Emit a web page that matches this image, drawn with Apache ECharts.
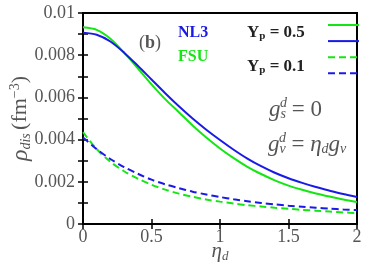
<!DOCTYPE html>
<html><head><meta charset="utf-8">
<script src="https://cdn.jsdelivr.net/npm/echarts@6/dist/echarts.min.js"></script>
<style>html,body{margin:0;padding:0;background:#fff}#c{width:374px;height:262px}</style>
</head><body><div id="c"></div>
<script>
const etas = [0,0.1,0.2,0.3,0.4,0.5,0.6,0.7,0.8,0.9,1.0,1.1,1.2,1.3,1.4,1.5,1.6,1.7,1.8,1.9,2.0];
const nl3_05 = [0.00907,0.00897,0.00865,0.00812,0.00750,0.00685,0.00620,0.00558,0.00500,0.00447,0.00398,0.00352,0.00310,0.00274,0.00243,0.00217,0.00195,0.00175,0.00158,0.00142,0.00128];
const fsu_05 = [0.00932,0.00920,0.00878,0.00812,0.00738,0.00662,0.00592,0.00530,0.00467,0.00410,0.00358,0.00312,0.00271,0.00237,0.00207,0.00182,0.00162,0.00145,0.00130,0.00116,0.00104];
const nl3_01 = [0.00410,0.00355,0.00308,0.00270,0.00238,0.00210,0.00188,0.00170,0.00153,0.00140,0.00128,0.00117,0.00108,0.00100,0.00093,0.00087,0.00082,0.00077,0.00073,0.00069,0.00066];
const fsu_01 = [0.00435,0.00355,0.00295,0.00250,0.00215,0.00186,0.00163,0.00144,0.00129,0.00116,0.00106,0.00097,0.00089,0.00083,0.00077,0.00072,0.00067,0.00063,0.00059,0.00055,0.00052];
const xTickLabels = {0:'0',0.5:'0.5',1:'1',1.5:'1.5',2:'2'};
const yTickLabels = {0:'0',2:'0.002',4:'0.004',6:'0.006',8:'0.008',10:'0.01'};

const GREEN = '#14e614', BLUE = '#1a1ae6', GRAY = '#555';
const SERIF = 'Liberation Serif';
const pairs = arr => etas.map((x,i)=>[x,arr[i]]);
function mk(name, arr, color, dashed){
  return {name, type:'line', data:pairs(arr), smooth:0.3, symbol:'none', showSymbol:false,
    lineStyle:{color, width:2, type: dashed ? [7,4] : 'solid'}, itemStyle:{color}, z: dashed?2:3};
}
const chart = echarts.init(document.getElementById('c'), null, {renderer:'canvas'});
const tickStyle = {show:true, inside:true, length:5, lineStyle:{color:'#000', width:1.5}};
chart.setOption({
  animation:false,
  grid:{left:83, right:17, top:13, bottom:38, containLabel:false, outerBoundsMode:'none', show:true, borderColor:'#000', borderWidth:2},
  xAxis:[{type:'value', min:0, max:2, interval:0.5,
    axisLine:{show:true, lineStyle:{color:'#000', width:2}}, axisTick:tickStyle, splitLine:{show:false},
    axisLabel:{color:GRAY, fontFamily:SERIF, fontSize:18, margin:4, formatter:v=>xTickLabels[v] ?? ''},
    name:'{i|η}{s|d}', nameLocation:'middle', nameGap:16, nameMoveOverlap:false,
    nameTextStyle:{rich:{i:{fontFamily:SERIF, fontStyle:'italic', fontSize:21, color:GRAY}, s:{fontFamily:SERIF, fontStyle:'italic', fontSize:13, color:GRAY, padding:[10,0,0,0]}}}},
    {type:'value', min:0, max:2, interval:0.5, position:'top', axisLine:{show:false}, axisTick:tickStyle, axisLabel:{show:false}, splitLine:{show:false}}],
  yAxis:[{type:'value', min:0, max:0.01, interval:0.001,
    axisLine:{show:true, lineStyle:{color:'#000', width:2}}, axisTick:tickStyle, splitLine:{show:false},
    axisLabel:{color:GRAY, fontFamily:SERIF, fontSize:18, margin:8, formatter:v=>yTickLabels[Math.round(v*1000)] ?? ''},
    name:'{i|ρ}{s|dis} {n|(fm}{p|−3}{n|)}', nameLocation:'middle', nameGap:50, nameMoveOverlap:false,
    nameTextStyle:{rich:{
      i:{fontFamily:SERIF, fontStyle:'italic', fontSize:24, color:GRAY},
      s:{fontFamily:SERIF, fontStyle:'italic', fontSize:14, color:GRAY, padding:[11,0,0,0]},
      n:{fontFamily:SERIF, fontSize:22, color:GRAY},
      p:{fontFamily:SERIF, fontSize:14, color:GRAY, padding:[0,0,11,0]}}}},
    {type:'value', min:0, max:0.01, interval:0.001, position:'right', axisLine:{show:false}, axisTick:tickStyle, axisLabel:{show:false}, splitLine:{show:false}}],
  legend:{orient:'vertical', right:14, top:18, itemWidth:31, itemHeight:14, itemGap:3.5, padding:0,
    itemStyle:{opacity:0}, data:['FSU 0.5','NL3 0.5','FSU 0.1','NL3 0.1'], formatter:()=>'', selectedMode:false},
  series:[mk('FSU 0.5', fsu_05, GREEN, false), mk('NL3 0.5', nl3_05, BLUE, false),
          mk('FSU 0.1', fsu_01, GREEN, true), mk('NL3 0.1', nl3_01, BLUE, true)],
  graphic:[
    {type:'text', left:139, top:34, style:{text:'({b|b})', rich:{b:{fontFamily:SERIF, fontWeight:'bold', fontSize:18, fill:GRAY}}, font:'18px "Liberation Serif"', fill:GRAY}},
    {type:'text', left:178, top:25, style:{text:'NL3', font:'bold 16px "Liberation Serif"', fill:BLUE}},
    {type:'text', left:178, top:49, style:{text:'FSU', font:'bold 16px "Liberation Serif"', fill:GREEN}},
    {type:'text', left:247, top:24, style:{text:'{b|Y}{s|p}{b| = 0.5}', rich:{b:{fontFamily:SERIF, fontWeight:'bold', fontSize:17, fill:'#222'}, s:{fontFamily:SERIF, fontWeight:'bold', fontSize:11, fill:'#222', padding:[7,0,0,0]}}}},
    {type:'text', left:247, top:58, style:{text:'{b|Y}{s|p}{b| = 0.1}', rich:{b:{fontFamily:SERIF, fontWeight:'bold', fontSize:17, fill:'#222'}, s:{fontFamily:SERIF, fontWeight:'bold', fontSize:11, fill:'#222', padding:[7,0,0,0]}}}},
    {type:'text', left:269, top:98, style:{text:'{i|g}{s|s}{n| = 0}', rich:{i:{fontFamily:SERIF, fontStyle:'italic', fontSize:23, fill:GRAY}, s:{fontFamily:SERIF, fontStyle:'italic', fontSize:14, fill:GRAY, padding:[9,0,0,0]}, n:{fontFamily:SERIF, fontSize:23, fill:GRAY}}}},
    {type:'text', left:280, top:96, style:{text:'d', font:'italic 14px "Liberation Serif"', fill:GRAY}},
    {type:'text', left:268, top:133, style:{text:'{i|g}{s|v}{n| = }{i|η}{s|d}{i|g}{s|v}', rich:{i:{fontFamily:SERIF, fontStyle:'italic', fontSize:23, fill:GRAY}, s:{fontFamily:SERIF, fontStyle:'italic', fontSize:14, fill:GRAY, padding:[9,0,0,0]}, n:{fontFamily:SERIF, fontSize:23, fill:GRAY}}}},
    {type:'text', left:279, top:131, style:{text:'d', font:'italic 14px "Liberation Serif"', fill:GRAY}}
  ]
});
</script></body></html>
